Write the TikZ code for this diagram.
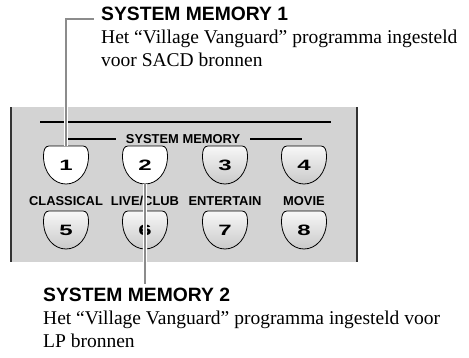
\documentclass[tikz,border=0pt]{standalone}
\usepackage{fontspec}
\setmainfont{Liberation Serif}
\setsansfont{Liberation Sans}
\newfontfamily\keyfont[FakeStretch=1.6]{Liberation Sans}
\usetikzlibrary{positioning}

\definecolor{panelgray}{RGB}{211,211,211}
\definecolor{leadgray}{RGB}{140,140,140}

% key outline round the named number node
\newcommand{\memkey}[4]{%
  \path[#4, shift={#2}] (-17,-19) -- (17,-19)
    .. controls (21,-19) and (22.5,-15) .. (22.5,-9)
    .. controls (22.5,8) and (12,19) .. (0,19)
    .. controls (-12,19) and (-22.5,8) .. (-22.5,-9)
    .. controls (-22.5,-15) and (-21,-19) .. (-17,-19) -- cycle;
  \node[keynum] (#1) at #2 {#3};}

\begin{document}
\begin{tikzpicture}[
  x=1pt, y=-1pt,
  node distance=5pt,
  headtxt/.style={inner sep=0pt, font=\sffamily\bfseries\fontsize{19.3}{22}\selectfont},
  desctxt/.style={inner sep=0pt, align=left, font=\fontsize{19.5}{23}\selectfont},
  grptxt/.style={inner sep=0pt, font=\sffamily\bfseries\fontsize{12.9}{14}\selectfont},
  keynum/.style={inner sep=0pt, minimum width=45pt, minimum height=38pt,
                 font=\keyfont\bfseries\fontsize{15}{15}\selectfont},
  whitekey/.style={draw, line width=0.8pt, fill=white},
  graykey/.style={draw, line width=0.8pt, top color=gray!6, bottom color=gray!42},
  rule/.style={line width=1.1pt},
  leader/.style={draw=white, line width=0.9pt, double=leadgray, double distance=1.8pt},
]
\useasboundingbox (0,0) rectangle (469,357);
% Paneel
\fill[panelgray] (10,107) rectangle (358,262);
\draw[line width=2pt, black!80] (11,107) -- (11,262);
\draw[line width=2pt, black!80] (357,107) -- (357,262);
\draw[rule] (40,122) -- (331,122);
\node[grptxt] (grp) at (183,139) {SYSTEM MEMORY};
\draw[rule] ([xshift=-10pt]grp.west) -- ++(-49,0);
\draw[rule] ([xshift=10pt]grp.east) -- ++(52,0);
% Toetsen boven
\memkey{k1}{(66,165)}{1}{whitekey}
\memkey{k2}{(145,165)}{2}{whitekey}
\memkey{k3}{(225,165)}{3}{graykey}
\memkey{k4}{(304,165)}{4}{graykey}
% Toetsen onder
\memkey{k5}{(66,230)}{5}{graykey}
\memkey{k6}{(145,230)}{6}{graykey}
\memkey{k7}{(225,230)}{7}{graykey}
\memkey{k8}{(304,230)}{8}{graykey}
\node[grptxt, above=of k5] (cls) {CLASSICAL};
\node[grptxt, above=of k6] (live) {LIVE/CLUB};
\node[grptxt, above=of k7] (ent) {ENTERTAIN};
\node[grptxt, above=of k8] (mov) {MOVIE};
% Teksten
\node[headtxt, anchor=base west] (sm1) at (101,20) {SYSTEM MEMORY 1};
\node[desctxt, below right=9.7pt and 0pt of sm1.base west] (d1)
  {Het “Village Vanguard” programma ingesteld\\voor SACD bronnen};
\node[headtxt, anchor=base west] (sm2) at (43,301) {SYSTEM MEMORY 2};
\node[desctxt, below right=9.7pt and 0pt of sm2.base west] (d2)
  {Het “Village Vanguard” programma ingesteld voor\\LP bronnen};
% Verwijslijnen
\draw[leader, shorten >=7pt] (k1.north) |- ([yshift=-6pt]sm1.west);
\draw[leader, shorten >=3pt] (k2.south) -- (k2.south |- sm2.north);
\end{tikzpicture}
\end{document}
